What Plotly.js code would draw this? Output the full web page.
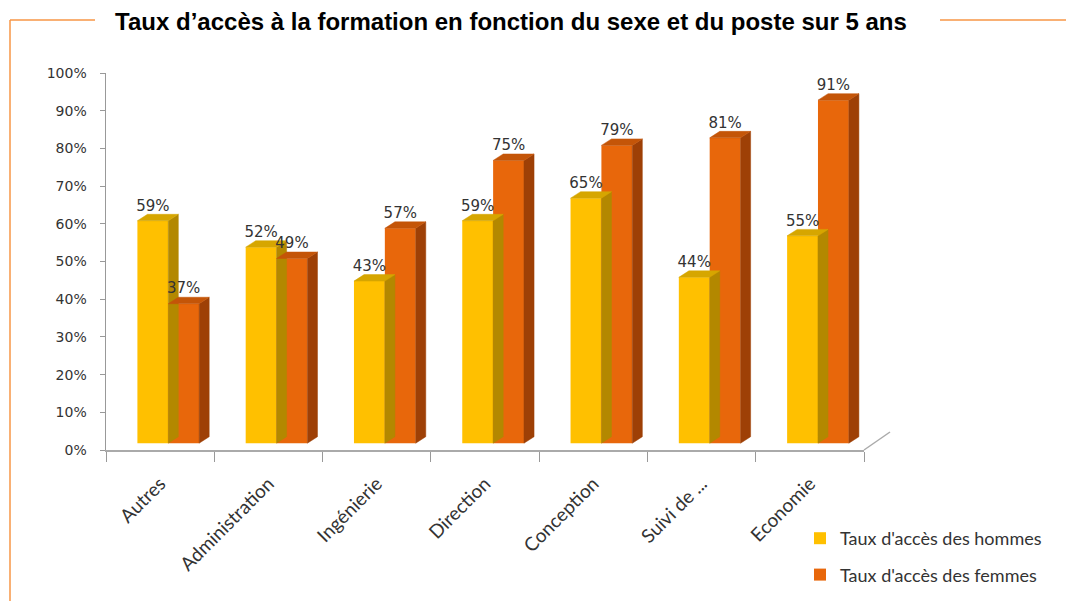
<!DOCTYPE html>
<html>
<head>
<meta charset="utf-8">
<script src="https://cdn.plot.ly/plotly-3.0.1.min.js"></script>
<style>html,body{margin:0;padding:0;background:#fff;}#chart{width:1066px;height:601px;}</style>
</head>
<body>
<div id="chart"></div>
<script>
const categories = ["Autres", "Administration", "Ingénierie", "Direction", "Conception", "Suivi de ...", "Economie"];
const hommes = [59, 52, 43, 59, 65, 44, 55];
const femmes = [37, 49, 57, 75, 79, 81, 91];
const seriesNames = ["Taux d'accès des hommes", "Taux d'accès des femmes"];
const yTicks = [0, 10, 20, 30, 40, 50, 60, 70, 80, 90, 100];
const yTickText = yTicks.map(v => v + '%');

// 3D look parameters (style)
const B0 = 1.8;      // floor lift (% units)
const DX = 0.093;    // depth in category units
const DY = 1.72;     // depth in % units
const W = 0.285;
const OFF_H = -0.21, OFF_F = 0.075;

const idx = categories.map((_, i) => i);

function faces(vals, off) {
  const sx = [], sy = [], tx = [], ty = [];
  vals.forEach((v, i) => {
    const xl = i + off, xr = i + off + W, top = B0 + v;
    sx.push(xr, xr + DX, xr + DX, xr, xr, null);
    sy.push(B0, B0 + DY, top + DY, top, B0, null);
    tx.push(xl, xl + DX, xr + DX, xr, xl, null);
    ty.push(top, top + DY, top + DY, top, top, null);
  });
  return {sx, sy, tx, ty};
}

const fH = faces(hommes, OFF_H), fF = faces(femmes, OFF_F);

function faceTrace(x, y, color) {
  return {type: 'scatter', mode: 'lines', x, y, fill: 'toself', fillcolor: color,
          line: {width: 0.5, color: color}, hoverinfo: 'skip', showlegend: false};
}

const labelFont = {family: 'DejaVu Sans, sans-serif', size: 15, color: '#333'};

const traces = [
  {type: 'bar', name: seriesNames[0], x: idx, y: hommes, base: B0, offset: OFF_H, width: W,
   marker: {color: '#FFC000'}, legendgroup: 'h'},
  {type: 'bar', name: seriesNames[1], x: idx, y: femmes, base: B0, offset: OFF_F, width: W,
   marker: {color: '#E8670B'}, legendgroup: 'f'},
  faceTrace(fH.sx, fH.sy, '#B38800'),
  faceTrace(fH.tx, fH.ty, '#D6A600'),
  faceTrace(fF.sx, fF.sy, '#9E4006'),
  faceTrace(fF.tx, fF.ty, '#C45508'),
  {type: 'scatter', mode: 'text', x: idx.map(i => i + OFF_H + W / 2), y: hommes.map(v => v + B0 + DY),
   text: hommes.map(v => v + '%'), textposition: 'top center', textfont: labelFont,
   showlegend: false, hoverinfo: 'skip'},
  {type: 'scatter', mode: 'text', x: idx.map(i => i + OFF_F + W / 2), y: femmes.map(v => v + B0 + DY),
   text: femmes.map(v => v + '%'), textposition: 'top center', textfont: labelFont,
   showlegend: false, hoverinfo: 'skip'},
  {type: 'scatter', mode: 'markers', x: idx, y: idx.map(() => null), xaxis: 'x2',
   showlegend: false, hoverinfo: 'skip'}
];

const px2x = p => (p - 106) / 758;
const py2y = p => (450 - p) / 377;
const frameColor = '#F79646';

const layout = {
  width: 1066, height: 601,
  margin: {l: 106, r: 202, t: 73, b: 151, autoexpand: false},
  paper_bgcolor: '#fff', plot_bgcolor: '#fff',
  barmode: 'overlay',
  title: {text: 'Taux d’accès à la formation en fonction du sexe et du poste sur 5 ans',
          font: {family: 'Liberation Sans, Arial, sans-serif', size: 24, color: '#000', weight: 'bold'},
          x: 511 / 1066, xanchor: 'center', xref: 'container', y: 1 - 22 / 601, yanchor: 'middle', yref: 'container'},
  xaxis: {range: [-0.5, 6.5], tickvals: [-0.5, 0.5, 1.5, 2.5, 3.5, 4.5, 5.5, 6.5],
          ticktext: ['', '', '', '', '', '', '', ''], ticks: 'outside', ticklen: 10, tickcolor: '#999',
          showline: true, linecolor: '#aaa', linewidth: 1.5, showgrid: false, zeroline: false, fixedrange: true,
          automargin: false},
  xaxis2: {range: [-0.5, 6.5], overlaying: 'x', anchor: 'y', side: 'bottom', tickvals: idx, ticktext: categories,
           tickangle: -45, ticks: '', showline: false, showgrid: false, zeroline: false, automargin: false,
           tickfont: {family: 'Lato, sans-serif', size: 19, color: '#333'}, ticklabelstandoff: 18},
  yaxis: {range: [0, 100], tickvals: yTicks, ticktext: yTickText, ticks: 'outside', ticklen: 5, tickcolor: '#999',
          showline: true, linecolor: '#999', linewidth: 1.5, showgrid: false, zeroline: false, automargin: false,
          ticklabelstandoff: 10,
          tickfont: {family: 'DejaVu Sans, sans-serif', size: 14, color: '#333'}},
  legend: {x: px2x(800), y: py2y(520), xanchor: 'left', yanchor: 'top',
           bgcolor: 'rgba(0,0,0,0)', itemwidth: 30,
           font: {family: 'Lato, sans-serif', size: 18, color: '#333'}, tracegroupgap: 10, traceorder: 'grouped'},
  shapes: [
    {type: 'line', xref: 'paper', yref: 'paper', x0: px2x(10), x1: px2x(10), y0: py2y(20), y1: py2y(605),
     line: {color: frameColor, width: 1.5}},
    {type: 'line', xref: 'paper', yref: 'paper', x0: px2x(10), x1: px2x(95), y0: py2y(20), y1: py2y(20),
     line: {color: frameColor, width: 1.5}},
    {type: 'line', xref: 'paper', yref: 'paper', x0: px2x(940), x1: px2x(1070), y0: py2y(20), y1: py2y(20),
     line: {color: frameColor, width: 1.5}},
    {type: 'line', xref: 'paper', yref: 'paper', x0: 1, x1: px2x(890), y0: 0, y1: py2y(432),
     line: {color: '#aaa', width: 1.5}}
  ],
  showlegend: true
};

Plotly.newPlot('chart', traces, layout, {displayModeBar: false, staticPlot: true});
</script>
</body>
</html>
